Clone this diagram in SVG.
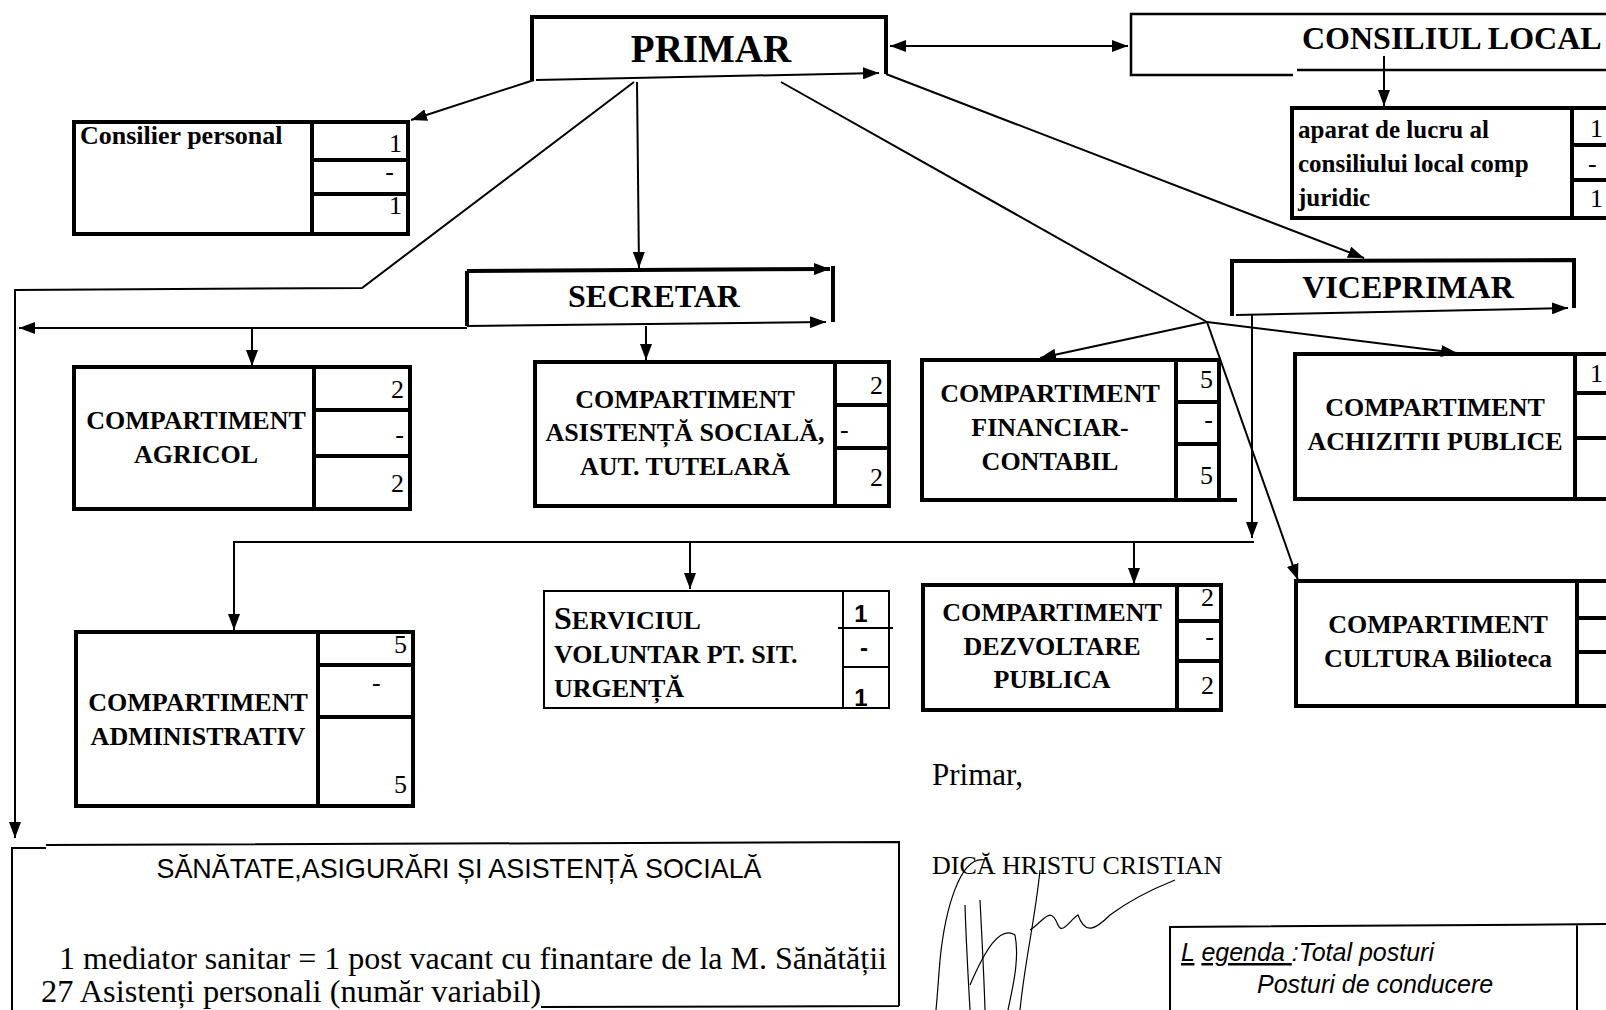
<svg xmlns="http://www.w3.org/2000/svg" width="1606" height="1010" viewBox="0 0 1606 1010">
<style>
.bx{fill:none;stroke:#000;stroke-width:4}
.th{fill:none;stroke:#000;stroke-width:2}
.cn{fill:none;stroke:#000;stroke-width:2}
.ar{fill:none;stroke:#000;stroke-width:2;marker-end:url(#ah)}
.tb{font-family:"Liberation Serif",serif;font-weight:bold;font-size:26px;fill:#000}
.tc{font-family:"Liberation Serif",serif;font-weight:bold;font-size:26px;fill:#000;text-anchor:middle}
.nm{font-family:"Liberation Serif",serif;font-size:26px;fill:#000;text-anchor:end}
.tr{font-family:"Liberation Serif",serif;font-size:26px;fill:#000}
.ns{font-family:"Liberation Sans",sans-serif;font-weight:bold;font-size:24px;fill:#000;text-anchor:middle}
.it{font-family:"Liberation Sans",sans-serif;font-style:italic;font-size:25px;fill:#000}
.sg{fill:none;stroke:#000;stroke-width:1.2}
</style>
<defs>
<marker id="ah" viewBox="0 0 16 12" markerWidth="16" markerHeight="12" refX="16" refY="6" orient="auto-start-reverse" markerUnits="userSpaceOnUse">
<path d="M0,0 L16,6 L0,12 z" fill="#000"/>
</marker>
</defs>
<rect width="1606" height="1010" fill="#fff"/>

<g id="connectors">
<line x1="890" y1="46" x2="1128" y2="46" class="ar" style="marker-start:url(#ah)"/>
<line x1="1384" y1="56" x2="1384" y2="106" class="ar"/>
<line x1="534" y1="80" x2="411" y2="120" class="ar"/>
<polyline points="634,82 362,288 15,290 15,838" class="ar"/>
<line x1="637" y1="82" x2="639" y2="268" class="ar"/>
<line x1="467" y1="328" x2="19" y2="328" class="ar"/>
<line x1="252" y1="328" x2="252" y2="366" class="ar"/>
<line x1="646" y1="326" x2="646" y2="360" class="ar"/>
<line x1="886" y1="74" x2="1364" y2="258" class="ar"/>
<line x1="781" y1="82" x2="1207" y2="322" class="cn"/>
<line x1="1207" y1="322" x2="1040" y2="358" class="ar"/>
<line x1="1207" y1="322" x2="1457" y2="353" class="ar"/>
<line x1="1207" y1="322" x2="1298" y2="580" class="ar"/>
<line x1="1252" y1="314" x2="1252" y2="538" class="ar"/>
<polyline points="1254,542 234,542 234,630" class="ar"/>
<line x1="690" y1="542" x2="690" y2="589" class="ar"/>
<line x1="1134" y1="542" x2="1134" y2="584" class="ar"/>
</g>

<g id="primar">
<path d="M532,80 L532,17 L886,17 L886,74" class="bx"/>
<line x1="536" y1="80" x2="879" y2="73" class="ar"/>
<text x="711" y="62" class="tc" style="font-size:39px">PRIMAR</text>
</g>

<g id="consiliul-local">
<path d="M1620,14 L1131,14 L1131,75 L1293,75 M1297,70 L1620,70" fill="none" stroke="#000" stroke-width="2.5"/>
<text x="1302" y="49" class="tb" style="font-size:32px">CONSILIUL LOCAL</text>
</g>

<g id="aparat">
<rect x="1292" y="108" width="330" height="110" class="bx"/>
<path d="M1572,108 L1572,218 M1572,145 L1620,145 M1572,180 L1620,180" class="bx"/>
<text x="1298" y="138" class="tb" style="font-size:25px">aparat de lucru al</text>
<text x="1298" y="172" class="tb" style="font-size:25px">consiliului local  comp</text>
<text x="1298" y="206" class="tb" style="font-size:25px">juridic</text>
<text x="1603" y="137" class="nm">1</text>
<text x="1588" y="172" class="tr">-</text>
<text x="1603" y="207" class="nm">1</text>
</g>

<g id="consilier">
<rect x="74" y="122" width="334" height="112" class="bx"/>
<path d="M312,122 L312,234 M312,160 L408,160 M312,194 L408,194" class="bx"/>
<text x="80" y="144" class="tb">Consilier personal</text>
<text x="402" y="152" class="nm">1</text>
<text x="394" y="180" class="nm">-</text>
<text x="402" y="214" class="nm">1</text>
</g>

<g id="secretar">
<path d="M467,326 L467,271" class="bx"/>
<line x1="467" y1="271" x2="830" y2="269" class="ar" style="stroke-width:4"/>
<path d="M833,266 L833,322" class="bx"/>
<line x1="467" y1="326" x2="826" y2="322" class="ar"/>
<text x="654" y="307" class="tc" style="font-size:32px">SECRETAR</text>
</g>

<g id="agricol">
<rect x="74" y="367" width="336" height="142" class="bx"/>
<path d="M314,367 L314,509 M314,410 L410,410 M314,456 L410,456" class="bx"/>
<text x="196" y="429" class="tc">COMPARTIMENT</text>
<text x="196" y="463" class="tc">AGRICOL</text>
<text x="404" y="398" class="nm">2</text>
<text x="404" y="443" class="nm">-</text>
<text x="404" y="492" class="nm">2</text>
</g>

<g id="asistenta">
<rect x="535" y="362" width="354" height="144" class="bx"/>
<path d="M835,362 L835,506 M835,405 L889,405 M835,448 L889,448" class="bx"/>
<text x="685" y="408" class="tc">COMPARTIMENT</text>
<text x="685" y="441" class="tc">ASISTENȚĂ SOCIALĂ,</text>
<text x="685" y="475" class="tc">AUT. TUTELARĂ</text>
<text x="883" y="394" class="nm">2</text>
<text x="840" y="438" class="tr">-</text>
<text x="883" y="486" class="nm">2</text>
</g>

<g id="financiar">
<rect x="922" y="360" width="297" height="140" class="bx"/>
<path d="M1176,360 L1176,500 M1176,402 L1219,402 M1176,444 L1219,444 M1219,500 L1237,500" class="bx"/>
<text x="1050" y="402" class="tc">COMPARTIMENT</text>
<text x="1050" y="436" class="tc">FINANCIAR-</text>
<text x="1050" y="470" class="tc">CONTABIL</text>
<text x="1213" y="388" class="nm">5</text>
<text x="1213" y="428" class="nm">-</text>
<text x="1213" y="484" class="nm">5</text>
</g>

<g id="viceprimar">
<path d="M1232,316 L1232,261 L1574,260 L1574,308" class="bx"/>
<line x1="1236" y1="315" x2="1568" y2="308" class="ar"/>
<text x="1408" y="298" class="tc" style="font-size:32px">VICEPRIMAR</text>
</g>

<g id="achizitii">
<rect x="1295" y="354" width="330" height="145" class="bx"/>
<path d="M1575,354 L1575,499 M1575,393 L1620,393 M1575,438 L1620,438" class="bx"/>
<text x="1435" y="416" class="tc">COMPARTIMENT</text>
<text x="1435" y="450" class="tc">ACHIZITII PUBLICE</text>
<text x="1603" y="382" class="nm">1</text>
</g>

<g id="cultura">
<rect x="1296" y="581" width="330" height="125" class="bx"/>
<path d="M1577,581 L1577,706 M1577,618 L1620,618 M1577,652 L1620,652" class="bx"/>
<text x="1438" y="633" class="tc">COMPARTIMENT</text>
<text x="1438" y="667" class="tc">CULTURA Bilioteca</text>
</g>

<g id="administrativ">
<rect x="76" y="632" width="337" height="174" class="bx"/>
<path d="M318,632 L318,806 M318,665 L413,665 M318,717 L413,717" class="bx"/>
<text x="198" y="711" class="tc">COMPARTIMENT</text>
<text x="198" y="745" class="tc">ADMINISTRATIV</text>
<text x="407" y="653" class="nm">5</text>
<text x="372" y="691" class="tr">-</text>
<text x="407" y="793" class="nm">5</text>
</g>

<g id="serviciul">
<rect x="544" y="591" width="345" height="117" class="th"/>
<path d="M843,591 L843,708 M838,628 L893,628 M843,667 L889,667" class="th"/>
<text x="554" y="629" class="tb"><tspan style="font-size:32px">S</tspan>ERVICIUL</text>
<text x="554" y="663" class="tb">VOLUNTAR PT. SIT.</text>
<text x="554" y="697" class="tb">URGENȚĂ</text>
<text x="861" y="622" class="ns">1</text>
<text x="864" y="656" class="ns">-</text>
<text x="861" y="706" class="ns">1</text>
</g>

<g id="dezvoltare">
<rect x="923" y="585" width="298" height="125" class="bx"/>
<path d="M1177,585 L1177,710 M1177,621 L1221,621 M1177,661 L1221,661" class="bx"/>
<text x="1052" y="621" class="tc">COMPARTIMENT</text>
<text x="1052" y="655" class="tc">DEZVOLTARE</text>
<text x="1052" y="688" class="tc">PUBLICA</text>
<text x="1214" y="606" class="nm">2</text>
<text x="1214" y="645" class="nm">-</text>
<text x="1214" y="694" class="nm">2</text>
</g>

<g id="sanatate">
<path d="M12,1010 L12,848 L46,848 M46,845 L899,842 L899,1006 M541,1007 L899,1006" class="th"/>
<text x="459" y="878" text-anchor="middle" textLength="605" lengthAdjust="spacingAndGlyphs" style="font-family:'Liberation Sans',sans-serif;font-size:28px">SĂNĂTATE,ASIGURĂRI ȘI ASISTENȚĂ SOCIALĂ</text>
<text x="59" y="969" textLength="828" lengthAdjust="spacingAndGlyphs" class="tr" style="font-size:31px">1 mediator sanitar = 1 post vacant cu finantare de la M. Sănătății</text>
<text x="41" y="1002" textLength="500" lengthAdjust="spacingAndGlyphs" class="tr" style="font-size:31px">27 Asistenți personali (număr variabil)</text>
</g>

<g id="semnatura">
<text x="932" y="785" class="tr" style="font-size:31px">Primar,</text>
<text x="932" y="874" class="tr">DICĂ HRISTU CRISTIAN</text>
<path class="sg" d="M985,860 C960,855 945,910 940,960 C938,985 937,1000 936,1010"/>
<path class="sg" d="M965,905 C966,940 968,975 970,1010"/>
<path class="sg" d="M980,900 C982,940 984,975 985,1010"/>
<path class="sg" d="M970,985 C985,950 1000,925 1015,935 C1020,960 1012,990 1008,1010"/>
<path class="sg" d="M1040,870 C1035,920 1025,960 1020,1010"/>
<path class="sg" d="M1030,930 C1045,920 1050,905 1058,925 C1062,935 1070,920 1078,915 C1085,935 1095,930 1110,915 C1130,900 1150,890 1175,880"/>
</g>

<g id="legenda">
<path d="M1170,1010 L1170,927 L1620,924 M1577,924 L1577,1010" class="th"/>
<text x="1181" y="961" class="it"><tspan text-decoration="underline">L</tspan> <tspan text-decoration="underline">egenda </tspan>:Total posturi</text>
<text x="1257" y="993" class="it">Posturi de conducere</text>
</g>
</svg>
